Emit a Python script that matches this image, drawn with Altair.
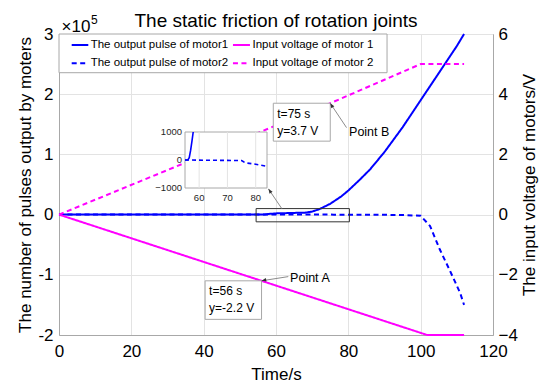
import altair as alt
import pandas as pd

# ---------------- data ----------------
TITLE = "The static friction of rotation joints"
S1 = "The output pulse of motor1"
S2 = "Input voltage of motor 1"
S3 = "The output pulse of motor2"
S4 = "Input voltage of motor 2"
series_order = [S1, S2, S3, S4]

# motor 1 output pulses
time_m1 = [0, 55, 56, 56.5, 57, 57.5, 57.9, 58.5, 60, 65, 68, 70, 72, 75, 78, 80,
           83, 86, 90, 95, 100, 105, 110, 112]
pulse_m1 = [0, 0, 0, 80, 350, 700, 1000, 1300, 2000, 2800, 3200, 5000, 9000, 18000,
            30000, 40000, 57000, 75000, 104000, 145000, 190000, 235000, 280000, 300000]
# motor 2 output pulses
time_m2 = [0, 55, 75, 76, 77, 80, 84, 90, 95, 100, 102.6, 105.3, 108, 110.9, 112]
pulse_m2 = [0, 0, -20, -80, -110, -150, -225, -400, -700, -2000, -19000, -58000,
            -92000, -130000, -150000]
# input voltages
time_v1 = [0, 101.8, 112]
volt_v1 = [0, -4, -4]
time_v2 = [0, 75, 100, 112]
volt_v2 = [0, 3.7, 5, 5]

# axis ticks
x_ticks = [0, 20, 40, 60, 80, 100, 120]
pulse_ticks = [-200000, -100000, 0, 100000, 200000, 300000]
volt_ticks = [-4, -2, 0, 2, 4, 6]
inset_x_ticks = [60, 70, 80]
inset_y_ticks = [-1000, 0, 1000]
inset_t = [55, 84]
inset_v = [-1000, 1000]
zoom_t = [54.5, 80.3]
zoom_v = [-12000, 10000]

# data tips (voltage axis)
tip_label = ["Point B", "Point A"]
tip_t = [75, 56]
tip_v = [3.7, -2.2]
tip_line1 = ["t=75 s", "t=56 s"]
tip_line2 = ["y=3.7 V", "y=-2.2 V"]

# ---------------- styling / annotation geometry ----------------
FONT = "Liberation Sans"
W, H = 434, 301
BLUE, MAG = "#0000ff", "#ff00ff"
GRID = "#e3e3e3"
FRAME = "#a8a8a8"

series_colors = [BLUE, MAG, BLUE, MAG]
series_dash = [[1, 0], [1, 0], [5, 3.5], [5, 3.5]]

pulse = pd.concat([
    pd.DataFrame({"t": time_m1, "value": pulse_m1, "series": S1}),
    pd.DataFrame({"t": time_m2, "value": pulse_m2, "series": S3}),
], ignore_index=True)
volt = pd.concat([
    pd.DataFrame({"t": time_v1, "value": volt_v1, "series": S2}),
    pd.DataFrame({"t": time_v2, "value": volt_v2, "series": S4}),
], ignore_index=True)
inset_df = pulse[(pulse.t >= inset_t[0]) & (pulse.t <= inset_t[1]) &
                 (pulse.value >= inset_v[0]) & (pulse.value <= inset_v[1])]

tips = pd.DataFrame({
    "name": tip_label, "t": tip_t, "v": tip_v,
    "line1": tip_line1, "line2": tip_line2,
    "box_t0": [59.25, 40.4], "box_v1": [2.44, -3.48],
    "name_t": [80.2, 63.9], "name_v": [2.73, -2.1],
    "tail_t": [79.5, 63.4], "tail_v": [2.89, -2.06],
    "angle": [327, 258],
})
ARROW = "M0,0L-0.38,1L0.38,1Z"

# legend box laid out in 2 rows x 2 columns (placed in the pulse axis' units)
legend_df = pd.DataFrame({
    "series": series_order,
    "t0": [3.51, 48.1, 3.51, 48.1],
    "t1": [8.1, 52.8, 8.1, 52.8],
    "tl": [8.76, 53.5, 8.76, 53.5],
    "v": [281700, 281700, 251300, 251300],
})
legend_frame = pd.DataFrame({"t0": [0], "t1": [90.7], "v0": [235700], "v1": [300000]})

color_enc = alt.Color("series:N", scale=alt.Scale(domain=series_order, range=series_colors), legend=None)
dash_enc = alt.StrokeDash("series:N", scale=alt.Scale(domain=series_order, range=series_dash), legend=None)

xs = alt.Scale(domain=[0, 120], nice=False, zero=False)
ys_p = alt.Scale(domain=[-200000, 300000], nice=False, zero=False)
ys_v = alt.Scale(domain=[-4, 6], nice=False, zero=False)

x_axis = alt.Axis(values=x_ticks, title="Time/s", grid=True, labelFlush=False,
                  labelOverlap=False, labelPadding=8, titleX=W / 2, titleY=39,
                  titleBaseline="middle", titleAlign="center")
y_axis_l = alt.Axis(values=pulse_ticks, labelExpr="datum.value/100000", grid=True,
                    title="The number of pulses output by moters", labelPadding=6,
                    titleAngle=270, titleX=-33.5, titleY=H / 2, titleBaseline="middle",
                    titleAlign="center")
y_axis_r = alt.Axis(values=volt_ticks, orient="right", grid=False,
                    title="The input voltage of motors/V", labelPadding=5,
                    titleAngle=270, titleX=36, titleY=H / 2, titleBaseline="middle",
                    titleAlign="center")


def PX(field):
    return alt.X(field, scale=xs, axis=x_axis)


def PY(field):
    return alt.Y(field, scale=ys_p, axis=y_axis_l)


def VX(field):
    return alt.X(field, scale=xs, axis=None)


def VY(field):
    return alt.Y(field, scale=ys_v, axis=y_axis_r)


# ---------------- left (pulse) layer ----------------
p_lines = alt.Chart(pulse).mark_line(strokeWidth=2).encode(
    x=PX("t:Q"), y=PY("value:Q"), color=color_enc, strokeDash=dash_enc,
)
zoom_df = pd.DataFrame({"t0": [zoom_t[0]], "t1": [zoom_t[1]], "v0": [zoom_v[0]], "v1": [zoom_v[1]],
                        "tail_t": [61.6], "tail_v": [10000], "head_t": [57.9], "head_v": [42800],
                        "angle": [326]})
zoom_box = alt.Chart(zoom_df).mark_rect(fillOpacity=0, stroke="#333333", strokeWidth=1).encode(
    x=PX("t0:Q"), x2="t1:Q", y=PY("v0:Q"), y2="v1:Q")
zoom_arrow = alt.Chart(zoom_df).mark_rule(color="#8c8c8c", strokeWidth=1).encode(
    x=PX("tail_t:Q"), x2="head_t:Q", y=PY("tail_v:Q"), y2="head_v:Q")
zoom_head = alt.Chart(zoom_df).mark_point(shape=ARROW, filled=True, size=90, color="#333333", opacity=1).encode(
    x=PX("head_t:Q"), y=PY("head_v:Q"), angle=alt.Angle("angle:Q", scale=None))
top_df = pd.DataFrame({"t": [0], "mid": [60], "v": [300000]})
exp_base = alt.Chart(top_df).mark_text(text="\u00d710", font=FONT, fontSize=17, align="left",
                                       baseline="alphabetic", dx=2.5, dy=-2.5, color="black").encode(
    x=PX("t:Q"), y=PY("v:Q"))
exp_sup = alt.Chart(top_df).mark_text(text="5", font=FONT, fontSize=12, align="left",
                                      baseline="alphabetic", dx=32, dy=-10, color="black").encode(
    x=PX("t:Q"), y=PY("v:Q"))
title_txt = alt.Chart(top_df).mark_text(text=TITLE, font=FONT, fontSize=19, align="center",
                                        baseline="alphabetic", dy=-6.7, color="black").encode(
    x=PX("mid:Q"), y=PY("v:Q"))
leg_box = alt.Chart(legend_frame).mark_rect(fill="white", stroke=FRAME, strokeWidth=1).encode(
    x=PX("t0:Q"), x2="t1:Q", y=PY("v0:Q"), y2="v1:Q")
leg_sym = alt.Chart(legend_df).mark_rule(strokeWidth=2).encode(
    x=PX("t0:Q"), x2="t1:Q", y=PY("v:Q"), color=color_enc, strokeDash=dash_enc)
leg_lab = alt.Chart(legend_df).mark_text(font=FONT, fontSize=11.5, align="left", baseline="middle",
                                         color="black").encode(
    x=PX("tl:Q"), y=PY("v:Q"), text="series:N")
left = alt.layer(p_lines, zoom_box, zoom_arrow, zoom_head, exp_base, exp_sup, title_txt,
                 leg_box, leg_sym, leg_lab)

# ---------------- right (voltage) layer ----------------
v_lines = alt.Chart(volt).mark_line(strokeWidth=2).encode(
    x=VX("t:Q"), y=VY("value:Q"), color=color_enc, strokeDash=dash_enc,
)
tb = alt.Chart(tips)
tip_box = tb.mark_rect(fill="white", stroke=FRAME, strokeWidth=1).encode(
    x=VX("box_t0:Q"), x2="t:Q", y=VY("v:Q"), y2="box_v1:Q")
tip_l1 = tb.mark_text(font=FONT, fontSize=12, align="left", baseline="middle", dx=4, dy=10.5,
                      color="black").encode(x=VX("box_t0:Q"), y=VY("v:Q"), text="line1:N")
tip_l2 = tb.mark_text(font=FONT, fontSize=12, align="left", baseline="middle", dx=4, dy=27.5,
                      color="black").encode(x=VX("box_t0:Q"), y=VY("v:Q"), text="line2:N")
tip_name = tb.mark_text(font=FONT, fontSize=12.5, align="left", baseline="middle", color="black").encode(
    x=VX("name_t:Q"), y=VY("name_v:Q"), text="name:N")
tip_arrow = tb.mark_rule(color="#8c8c8c", strokeWidth=1).encode(
    x=VX("tail_t:Q"), x2="t:Q", y=VY("tail_v:Q"), y2="v:Q")
tip_head = tb.mark_point(shape=ARROW, filled=True, size=90, color="#333333", opacity=1).encode(
    x=VX("t:Q"), y=VY("v:Q"), angle=alt.Angle("angle:Q", scale=None))
right = alt.layer(v_lines, tip_box, tip_arrow, tip_head, tip_l1, tip_l2, tip_name)

# ---------------- inset layer ----------------
ixs = alt.Scale(domain=inset_t, range=[126, 208], nice=False, zero=False)
iys = alt.Scale(domain=inset_v, range=[154, 98], nice=False, zero=False)


def IX(field):
    return alt.X(field, scale=ixs, axis=None)


def IY(field):
    return alt.Y(field, scale=iys, axis=None)


inset_box_df = pd.DataFrame({"t0": [inset_t[0]], "t1": [inset_t[1]], "v0": [inset_v[0]], "v1": [inset_v[1]]})
ibox = alt.Chart(inset_box_df).mark_rect(fill="white", stroke=FRAME, strokeWidth=1).encode(
    x=IX("t0:Q"), x2="t1:Q", y=IY("v0:Q"), y2="v1:Q")
igrid_df = pd.DataFrame({"t": inset_x_ticks, "v0": inset_v[0], "v1": inset_v[1]})
igrid = alt.Chart(igrid_df).mark_rule(color=GRID, strokeWidth=1).encode(
    x=IX("t:Q"), y=IY("v0:Q"), y2="v1:Q")
iline_solid = alt.Chart(inset_df).transform_filter(alt.datum.series == S1).mark_line(
    color=BLUE, strokeWidth=1.6).encode(x=IX("t:Q"), y=IY("value:Q"))
iline_dash = alt.Chart(inset_df).transform_filter(alt.datum.series == S3).mark_line(
    color=BLUE, strokeWidth=1.6, strokeDash=[4, 3]).encode(x=IX("t:Q"), y=IY("value:Q"))
ixlab_df = pd.DataFrame({"t": inset_x_ticks, "v": inset_v[0]})
ixlab = alt.Chart(ixlab_df).mark_text(font=FONT, fontSize=9.5, baseline="middle", align="center",
                                      dy=10, color="#262626").encode(
    x=IX("t:Q"), y=IY("v:Q"), text="t:Q")
iylab_df = pd.DataFrame({"t": inset_t[0], "v": inset_y_ticks})
iylab = alt.Chart(iylab_df).mark_text(font=FONT, fontSize=9.5, baseline="middle", align="right",
                                      dx=-3, color="#262626").encode(
    x=IX("t:Q"), y=IY("v:Q"), text="v:Q")
inset = alt.layer(ibox, igrid, iline_dash, iline_solid, ixlab, iylab)

chart = alt.layer(left, right, inset).resolve_scale(
    x="independent", y="independent"
).properties(
    width=W, height=H,
    autosize=alt.AutoSizeParams(type="none"),
    padding={"left": 51, "top": 26, "right": 49, "bottom": 48},
).configure_view(
    stroke=FRAME, strokeWidth=1
).configure_axis(
    labelFont=FONT, labelFontSize=17, labelColor="black",
    titleFont=FONT, titleFontSize=17, titleFontWeight="normal", titleColor="black",
    domainColor=FRAME, gridColor=GRID, ticks=False, tickSize=0,
)

chart.save("out.html", embed_options={"renderer": "svg", "actions": False})
